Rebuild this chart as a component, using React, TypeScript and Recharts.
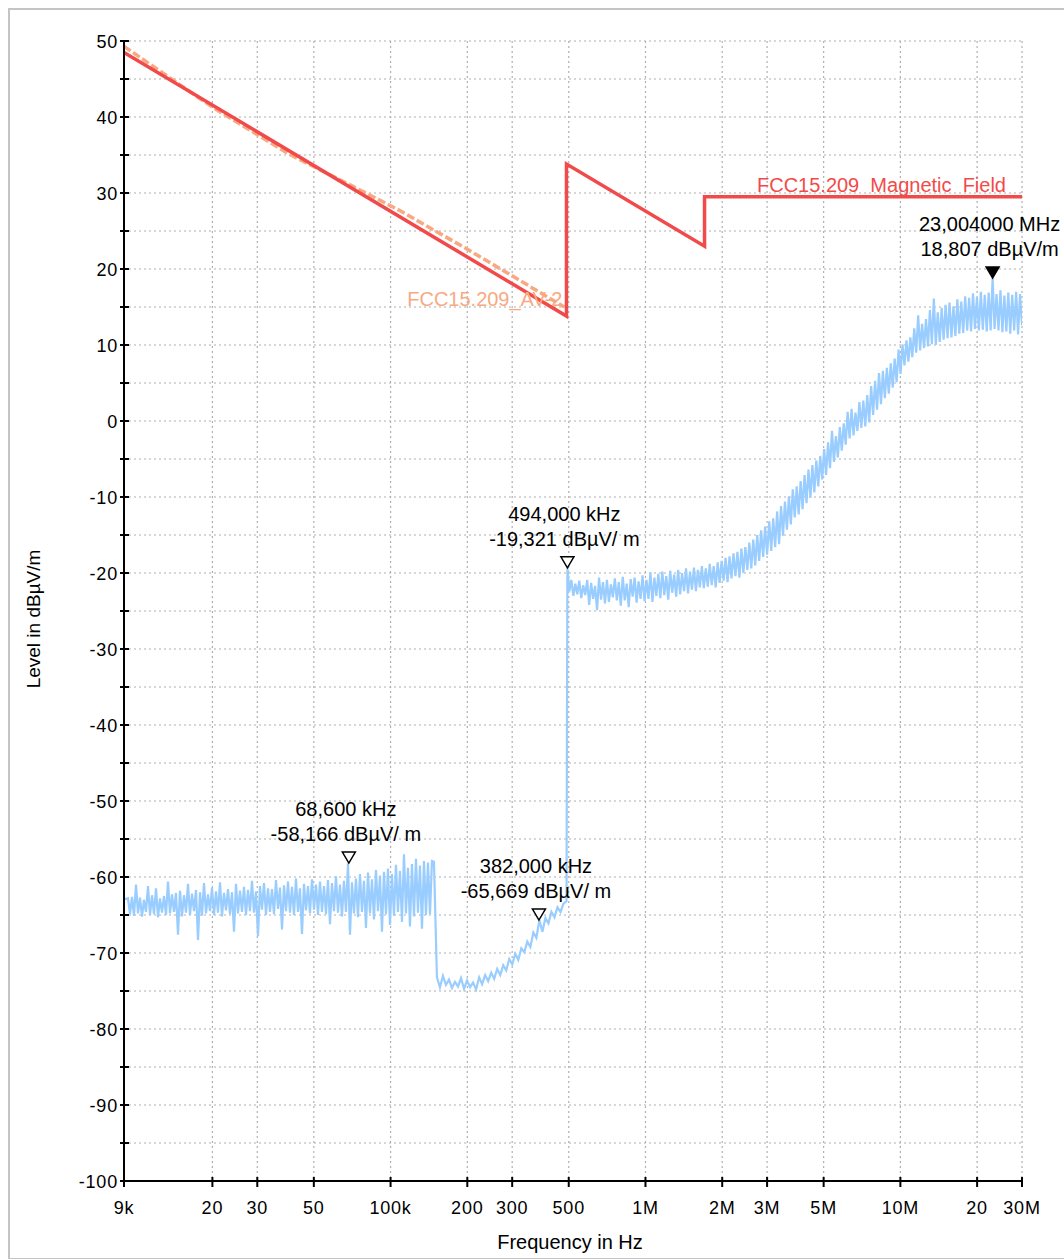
import React from 'react';
import { ComposedChart, Line, XAxis, YAxis, CartesianGrid, ReferenceDot } from 'recharts';

const FONT = '"Liberation Sans", Arial, Helvetica, sans-serif';
const W = 1064;
const H = 1259;

// axes
const X_TICKS = [9e3, 2e4, 3e4, 5e4, 1e5, 2e5, 3e5, 5e5, 1e6, 2e6, 3e6, 5e6, 1e7, 2e7, 3e7];
const X_LABELS = ['9k', '20', '30', '50', '100k', '200', '300', '500', '1M', '2M', '3M', '5M', '10M', '20', '30M'];
const Y_TICKS = [
  -100, -95, -90, -85, -80, -75, -70, -65, -60, -55, -50, -45, -40, -35, -30, -25,
  -20, -15, -10, -5, 0, 5, 10, 15, 20, 25, 30, 35, 40, 45, 50,
];

// limit lines (Hz / dBuV/m)
const LIMIT_FREQ = [9e3, 490e3, 490e3, 1.705e6, 1.705e6, 30e6];
const LIMIT_LEVEL = [48.5, 13.8, 33.8, 23.0, 29.5, 29.5];
const AV_FREQ = [9e3, 20e3, 40e3, 70e3, 110e3, 200e3, 300e3, 480e3];
const AV_LEVEL = [49.3, 41.3, 35.1, 31.0, 27.6, 22.6, 19.1, 15.0];

// measured trace, read off the plot per sweep segment
// (readings are log-spaced between start and stop, alternating peak / valley)
const SEG_A = { start: 9e3, stop: 148e3 };
const LEVEL_A = [
  -62.8, -62.9, -62.8, -64.9, -62.6, -65.1, -61.0, -64.8, -62.7, -65.2,
  -63.0, -64.6, -61.2, -65.0, -62.4, -64.9, -61.5, -65.3, -62.8, -64.7,
  -62.5, -65.0, -60.6, -64.8, -62.3, -64.6, -62.1, -67.6, -61.8, -65.2,
  -62.4, -64.7, -60.9, -65.0, -62.2, -64.5, -61.7, -68.3, -62.0, -65.1,
  -60.8, -64.8, -62.3, -64.5, -61.4, -65.0, -61.9, -64.7, -60.7, -65.2,
  -62.1, -64.4, -61.6, -64.9, -62.0, -67.2, -60.9, -64.8, -61.8, -64.6,
  -61.3, -65.0, -61.7, -64.5, -60.5, -64.7, -61.9, -67.8, -61.2, -64.3,
  -60.8, -65.0, -61.5, -64.6, -61.6, -64.9, -60.4, -64.2, -61.4, -66.9,
  -61.1, -64.5, -60.6, -64.7, -61.3, -65.0, -60.2, -64.6, -61.5, -67.5,
  -60.9, -64.4, -61.2, -64.8, -60.3, -64.3, -61.0, -65.0, -60.6, -64.6,
  -61.2, -64.9, -60.4, -66.2, -60.8, -64.5, -59.9, -64.7, -61.0, -65.2,
  -60.5, -64.6, -58.2, -67.6, -60.7, -64.8, -60.2, -65.3, -59.6, -64.6,
  -60.5, -66.7, -59.4, -64.8, -60.3, -65.6, -59.1, -64.5, -59.8, -67.2,
  -59.3, -64.9, -58.9, -66.3, -59.6, -65.1, -58.4, -64.6, -59.2, -65.9,
  -57.0, -64.8, -58.8, -66.5, -58.3, -65.2, -57.6, -64.7, -58.5, -66.8,
  -57.9, -65.0, -58.1, -64.9, -57.9, -58.0,
];
const SEG_B = { start: 152e3, stop: 490e3 };
const LEVEL_B = [
  -73.2, -74.5, -73.0, -74.2, -73.5, -74.6, -73.8, -74.4, -73.3, -74.7,
  -73.6, -74.5, -73.9, -74.8, -73.2, -74.1, -72.9, -73.7, -72.6, -73.4,
  -72.1, -72.9, -71.6, -72.3, -70.8, -71.5, -70.1, -70.9, -69.4, -69.9,
  -68.5, -69.2, -67.3, -68.0, -65.7, -67.2, -65.4, -66.1, -64.6, -65.3,
  -64.0, -64.6, -63.5, -63.2,
];
const SEG_C = { start: 494e3, stop: 3e6 };
const LEVEL_C = [
  -19.3, -22.4, -20.9, -23.0, -21.4, -22.8, -21.0, -23.3, -21.6, -22.9,
  -20.9, -24.2, -21.3, -23.4, -21.7, -24.9, -20.6, -23.5, -21.2, -24.0,
  -20.9, -23.8, -21.5, -23.2, -20.7, -23.6, -21.2, -24.3, -20.5, -23.6,
  -21.4, -24.5, -20.8, -23.1, -20.6, -23.9, -21.1, -23.4, -20.3, -23.7,
  -20.9, -23.4, -19.9, -23.8, -20.6, -23.0, -20.1, -23.3, -19.8, -22.9,
  -20.4, -23.5, -19.7, -22.6, -20.2, -23.1, -19.6, -22.8, -20.0, -22.4,
  -19.4, -22.7, -19.8, -22.2, -19.3, -22.4, -19.6, -21.9, -19.1, -22.0,
  -19.4, -21.8, -18.8, -21.6, -19.1, -21.9, -18.6, -21.3, -18.4, -21.0,
  -18.0, -21.2, -17.8, -20.7, -17.4, -20.4, -17.2, -20.6, -16.8, -20.0,
  -16.6, -19.6, -16.0, -19.4, -15.6, -19.0, -15.0, -18.4, -14.4, -17.9,
  -13.9, -17.6,
];
const SEG_D = { start: 3.06e6, stop: 30e6 };
const LEVEL_D = [
  -13.2, -17.1, -12.8, -16.6, -11.9, -16.2, -11.2, -15.1, -10.6, -14.3,
  -9.9, -13.6, -9.0, -12.7, -8.6, -12.3, -7.9, -11.6, -7.1, -10.8,
  -6.4, -10.1, -5.8, -9.4, -5.2, -8.6, -4.6, -7.7, -3.7, -7.1,
  -2.8, -6.2, -1.3, -5.4, -2.0, -4.8, -0.8, -3.9, -0.3, -3.1,
  1.2, -2.3, 1.6, -1.9, 1.1, -1.3, 2.5, -0.9, 2.7, -0.7,
  3.4, -0.2, 4.6, 0.8, 5.3, 1.5, 6.3, 2.2, 6.6, 3.0,
  7.0, 3.6, 7.6, 4.4, 8.2, 5.1, 9.4, 6.2, 10.1, 7.3,
  10.6, 7.8, 11.0, 8.4, 12.2, 9.0, 13.9, 9.3, 12.8, 9.6,
  13.4, 9.8, 14.6, 10.1, 16.1, 10.0, 14.3, 10.4, 14.9, 10.7,
  15.3, 10.9, 15.6, 11.0, 15.1, 11.2, 16.0, 11.5, 15.7, 11.6,
  16.4, 11.9, 16.2, 11.8, 16.8, 12.1, 16.3, 11.9, 17.0, 12.0,
  16.6, 11.8, 16.9, 11.9, 18.8, 12.1, 16.7, 11.9, 17.2, 11.7,
  16.5, 11.8, 16.9, 11.5, 16.6, 11.9, 17.0, 11.4, 16.7, 12.6,
];

// markers
const MARKER_FREQ = [68.6e3, 382e3, 494e3, 23.004e6];
const MARKER_LEVEL = [-58.166, -65.669, -19.321, 18.807];
const MARKER_TEXT = [
  ['68,600 kHz', '-58,166 dBµV/ m'],
  ['382,000 kHz', '-65,669 dBµV/ m'],
  ['494,000 kHz', '-19,321 dBµV/ m'],
  ['23,004000 MHz', '18,807 dBµV/m'],
];
const MARKER_FILLED = [false, false, false, true];

const RED = '#f24a4a';
const ORANGE = '#f9a982';
const BLUE = '#99ccff';

function sweep(seg: { start: number; stop: number }, levels: number[]) {
  const n = levels.length;
  return levels.map((v, i) => ({ f: seg.start * Math.pow(seg.stop / seg.start, i / (n - 1)), v }));
}

const traceData = [
  ...sweep(SEG_A, LEVEL_A),
  ...sweep(SEG_B, LEVEL_B),
  ...sweep(SEG_C, LEVEL_C),
  ...sweep(SEG_D, LEVEL_D),
];
const limitData = LIMIT_FREQ.map((f, i) => ({ f, v: LIMIT_LEVEL[i] }));
const avData = AV_FREQ.map((f, i) => ({ f, v: AV_LEVEL[i] }));

function XTick(props: any) {
  const { x, y, payload } = props;
  const i = X_TICKS.indexOf(payload.value);
  return (
    <g>
      <line x1={x} x2={x} y1={y - 4} y2={y + 6} stroke="#000" strokeWidth={2} />
      <text x={x} y={y + 33} textAnchor="middle" fontFamily={FONT} fontSize={18} letterSpacing={0.8} fill="#000">
        {X_LABELS[i]}
      </text>
    </g>
  );
}

function YTick(props: any) {
  const { x, y, payload } = props;
  const v = payload.value;
  return (
    <g>
      <line x1={x - 4} x2={x + 5} y1={y} y2={y} stroke="#000" strokeWidth={2} />
      {v % 10 === 0 && (
        <text x={x - 6} y={y + 6.5} textAnchor="end" fontFamily={FONT} fontSize={18} letterSpacing={0.8} fill="#000">
          {v}
        </text>
      )}
    </g>
  );
}

function markerShape(i: number) {
  return (props: any) => {
    const { cx, cy } = props;
    const [l1, l2] = MARKER_TEXT[i];
    return (
      <g>
        <path
          d={`M${cx - 6.5},${cy - 11} L${cx + 6.5},${cy - 11} L${cx},${cy} Z`}
          fill={MARKER_FILLED[i] ? '#000' : '#fff'}
          stroke="#000"
          strokeWidth={1.5}
        />
        <text x={cx - 3} y={cy - 47} textAnchor="middle" fontFamily={FONT} fontSize={20} fill="#000">
          {l1}
        </text>
        <text x={cx - 3} y={cy - 22} textAnchor="middle" fontFamily={FONT} fontSize={20} fill="#000">
          {l2}
        </text>
      </g>
    );
  };
}

function limitLabel(text: string, color: string, dx: number, dy: number) {
  return (props: any) => (
    <text x={props.cx + dx} y={props.cy + dy} textAnchor="end" fontFamily={FONT} fontSize={20} fill={color}>
      {text}
    </text>
  );
}

function XTitle(props: any) {
  const vb = props.viewBox;
  return (
    <text x={vb.x + vb.width / 2 - 3} y={vb.y + 68} textAnchor="middle" fontFamily={FONT} fontSize={20} fill="#000">
      Frequency in Hz
    </text>
  );
}

function YTitle(props: any) {
  const vb = props.viewBox;
  const cy = vb.y + vb.height / 2 + 8;
  return (
    <text x={40} y={cy} transform={`rotate(-90 40 ${cy})`} textAnchor="middle" fontFamily={FONT} fontSize={19} fill="#000">
      Level in dBµV/m
    </text>
  );
}

export default function App() {
  return (
    <div style={{ position: 'absolute', left: 0, top: 0, width: W, height: H, background: '#fff' }}>
      <div
        style={{
          position: 'absolute',
          left: 8,
          top: 8,
          width: W - 10,
          height: H - 11,
          borderLeft: '2px solid #c4c4c4',
          borderTop: '2px solid #c4c4c4',
          borderBottom: '2px solid #c4c4c4',
        }}
      />
      <div style={{ position: 'absolute', left: 0, top: 0 }}>
        <ComposedChart width={W} height={H} margin={{ top: 41, right: 42, left: 0, bottom: 0 }}>
          <CartesianGrid stroke="#b0b0b0" strokeDasharray="2 3" strokeWidth={1.2} />
          <XAxis
            dataKey="f"
            type="number"
            scale="log"
            domain={[9e3, 30e6]}
            allowDataOverflow
            ticks={X_TICKS}
            interval={0}
            height={78}
            tickSize={0}
            tickMargin={0}
            tickLine={false}
            tick={<XTick />}
            axisLine={{ stroke: '#000', strokeWidth: 2 }}
            label={{ content: <XTitle /> }}
          />
          <YAxis
            type="number"
            domain={[-100, 50]}
            allowDataOverflow
            ticks={Y_TICKS}
            interval={0}
            width={124}
            tickSize={0}
            tickMargin={0}
            tickLine={false}
            tick={<YTick />}
            axisLine={{ stroke: '#000', strokeWidth: 2 }}
            label={{ content: <YTitle /> }}
          />
          <Line
            data={avData}
            dataKey="v"
            stroke={ORANGE}
            strokeWidth={3.5}
            strokeDasharray="8 3"
            dot={false}
            activeDot={false}
            isAnimationActive={false}
          />
          <Line
            data={limitData}
            dataKey="v"
            stroke={RED}
            strokeWidth={3.5}
            dot={false}
            activeDot={false}
            isAnimationActive={false}
          />
          <Line
            data={traceData}
            dataKey="v"
            stroke={BLUE}
            strokeWidth={2.2}
            dot={false}
            activeDot={false}
            isAnimationActive={false}
          />
          <ReferenceDot x={30e6} y={29.5} r={0} ifOverflow="visible" shape={limitLabel('FCC15.209_Magnetic_Field', RED, -16, -5)} />
          <ReferenceDot x={490e3} y={13.8} r={0} ifOverflow="visible" shape={limitLabel('FCC15.209_AV-2', ORANGE, -4, -10)} />
          {MARKER_FREQ.map((f, i) => (
            <ReferenceDot key={f} x={f} y={MARKER_LEVEL[i]} r={0} ifOverflow="visible" shape={markerShape(i)} />
          ))}
        </ComposedChart>
      </div>
    </div>
  );
}
